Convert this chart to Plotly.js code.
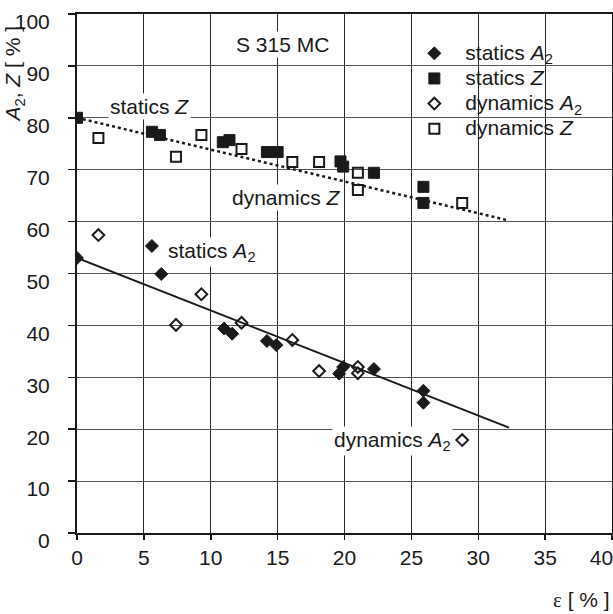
<!DOCTYPE html>
<html>
<head>
<meta charset="utf-8">
<script src="https://cdn.plot.ly/plotly-3.0.1.min.js"></script>
<style>html,body{margin:0;padding:0;background:#fff;}#chart{width:613px;height:614px;}</style>
</head>
<body>
<div id="chart"></div>
<script>
// Data
const staticsA2_x = [0, 5.6, 6.3, 11.0, 11.6, 14.2, 14.9, 19.6, 19.9, 22.2, 25.9, 25.9];
const staticsA2_y = [53, 55.3, 49.9, 39.4, 38.4, 37.0, 36.2, 30.7, 32.0, 31.6, 27.4, 25.1];

const staticsZ_x = [0, 5.6, 6.2, 10.9, 11.4, 14.2, 15.0, 19.7, 19.9, 22.2, 25.9, 25.9];
const staticsZ_y = [80, 77.3, 76.7, 75.3, 75.7, 73.4, 73.4, 71.6, 70.6, 69.4, 66.7, 63.6];

const dynamicsA2_x = [1.6, 7.4, 9.3, 12.3, 16.1, 18.1, 21.0, 21.0, 28.8];
const dynamicsA2_y = [57.4, 40.1, 46.0, 40.5, 37.2, 31.2, 32.0, 30.8, 17.9];

const dynamicsZ_x = [1.6, 7.4, 9.3, 12.3, 16.1, 18.1, 21.0, 21.0, 28.8];
const dynamicsZ_y = [76.1, 72.5, 76.7, 74.0, 71.5, 71.5, 69.4, 66.1, 63.6];

const trend_x = [0, 32.3];
const trendA2_y = [53, 20.3];
const trendZ_y = [80, 60.2];

const xTicks = [0, 5, 10, 15, 20, 25, 30, 35, 40];
const yTicks = [0, 10, 20, 30, 40, 50, 60, 70, 80, 90, 100];

const FONT = "Liberation Sans, Arial, sans-serif";
const INK = "#1a1a1a";
const FS = 21;

function big(t) { return "<span style='font-size:" + FS + "px'>" + t + "</span>"; }

const traces = [
  {x: trend_x, y: trendA2_y, mode: "lines", line: {color: INK, width: 2}, showlegend: false, hoverinfo: "skip"},
  {x: trend_x, y: trendZ_y, mode: "lines", line: {color: INK, width: 2.5, dash: "dot"}, showlegend: false, hoverinfo: "skip"},
  {x: staticsA2_x, y: staticsA2_y, mode: "markers", name: big("statics <i>A</i><sub>2</sub>"),
   marker: {symbol: "diamond", size: 10, color: INK, line: {color: INK, width: 1}}},
  {x: staticsZ_x, y: staticsZ_y, mode: "markers", name: big("statics <i>Z</i>"),
   marker: {symbol: "square", size: 11, color: INK, line: {color: INK, width: 1}}},
  {x: dynamicsA2_x, y: dynamicsA2_y, mode: "markers", name: big("dynamics <i>A</i><sub>2</sub>"),
   marker: {symbol: "diamond-open", size: 9, color: INK, line: {color: INK, width: 2}}},
  {x: dynamicsZ_x, y: dynamicsZ_y, mode: "markers", name: big("dynamics <i>Z</i>"),
   marker: {symbol: "square-open", size: 10, color: INK, line: {color: INK, width: 2}}}
];

const annStyle = {showarrow: false, bgcolor: "#ffffff", borderpad: 1, font: {family: FONT, size: FS, color: INK}};

const layout = {
  width: 613, height: 614,
  margin: {l: 77, r: 1, t: 14, b: 81},
  paper_bgcolor: "#ffffff", plot_bgcolor: "#ffffff",
  font: {family: FONT, size: FS, color: INK},
  showlegend: true,
  legend: {
    x: 0.61, y: 0.958, xanchor: "left", yanchor: "top",
    bgcolor: "rgba(0,0,0,0)", borderwidth: 0,
    itemwidth: 52, tracegroupgap: 0,
    font: {family: FONT, size: 17, color: INK}
  },
  xaxis: {
    range: [0, 40], tickvals: xTicks,
    ticktext: xTicks.map(v => v === 40 ? "40\u2002\u2002" : String(v)),
    showgrid: true, gridcolor: "#2a2a2a", gridwidth: 1,
    zeroline: false, showline: true, linecolor: INK, linewidth: 2, mirror: true,
    ticks: "outside", ticklen: 5, tickcolor: INK, tickwidth: 1.5,
    ticklabeloverflow: "allow",
    tickfont: {family: FONT, size: FS, color: INK}
  },
  yaxis: {
    range: [0, 100], tickvals: yTicks, ticktext: yTicks.map(String),
    showgrid: true, gridcolor: "#555555", gridwidth: 1,
    zeroline: false, showline: true, linecolor: INK, linewidth: 2, mirror: true,
    ticks: "outside", ticklen: 7, tickcolor: INK, tickwidth: 1.5,
    ticklabelshift: 8, ticklabelstandoff: 14, ticklabeloverflow: "allow",
    tickfont: {family: FONT, size: FS, color: INK}
  },
  annotations: [
    Object.assign({}, annStyle, {x: 15.4, y: 94.2, text: "S 315 MC"}),
    Object.assign({}, annStyle, {x: 5.4, y: 82.1, text: "statics <i>Z</i>"}),
    Object.assign({}, annStyle, {x: 15.7, y: 64.7, text: "dynamics <i>Z</i>"}),
    Object.assign({}, annStyle, {x: 10.1, y: 54.1, text: "statics <i>A</i><sub>2</sub>"}),
    Object.assign({}, annStyle, {x: 23.6, y: 17.7, text: "dynamics <i>A</i><sub>2</sub>"}),
    {xref: "paper", yref: "paper", x: -0.118, y: 0.885, xanchor: "center", yanchor: "middle",
     textangle: -90, showarrow: false, text: "<i>A</i><sub>2</sub>, <i>Z</i> [ % ]",
     font: {family: FONT, size: FS, color: INK}},
    {xref: "paper", yref: "paper", x: 1.0, y: -0.129, xanchor: "right", yanchor: "middle",
     showarrow: false, text: "<span style='font-family:Liberation Serif, serif'>ε</span> [ % ]",
     font: {family: FONT, size: FS, color: INK}}
  ]
};

Plotly.newPlot("chart", traces, layout, {displayModeBar: false, staticPlot: true});
</script>
</body>
</html>
